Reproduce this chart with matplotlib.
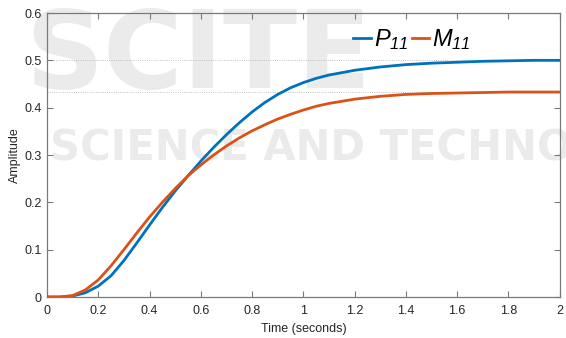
import matplotlib
matplotlib.use("Agg")
import matplotlib.pyplot as plt

plt.rcParams['font.family'] = ['Liberation Sans', 'DejaVu Sans']
plt.rcParams['mathtext.fontset'] = 'custom'
plt.rcParams['mathtext.it'] = 'Liberation Sans:italic'
plt.rcParams['mathtext.rm'] = 'Liberation Sans:italic'

# step response samples
t = [0, 0.05, 0.1, 0.15, 0.2, 0.25, 0.3, 0.35, 0.4, 0.45, 0.5, 0.55, 0.6, 0.65,
     0.7, 0.75, 0.8, 0.85, 0.9, 0.95, 1.0, 1.05, 1.1, 1.2, 1.3, 1.4, 1.5, 1.6,
     1.7, 1.8, 1.9, 2.0]
p11 = [0, 0, 0.002, 0.009, 0.023, 0.045, 0.077, 0.114, 0.152, 0.189, 0.224,
       0.256, 0.287, 0.316, 0.343, 0.368, 0.391, 0.411, 0.428, 0.442, 0.453,
       0.462, 0.469, 0.479, 0.486, 0.491, 0.494, 0.496, 0.498, 0.499, 0.5, 0.5]
m11 = [0, 0, 0.003, 0.015, 0.036, 0.066, 0.1, 0.135, 0.169, 0.2, 0.229,
       0.256, 0.279, 0.3, 0.319, 0.336, 0.351, 0.364, 0.376, 0.386, 0.395,
       0.403, 0.409, 0.418, 0.424, 0.428, 0.43, 0.431, 0.432, 0.433, 0.433, 0.433]
p11_final = 0.5
m11_final = 0.433
xticks = [0, 0.2, 0.4, 0.6, 0.8, 1, 1.2, 1.4, 1.6, 1.8, 2]
xlabels = ['0', '0.2', '0.4', '0.6', '0.8', '1', '1.2', '1.4', '1.6', '1.8', '2']
yticks = [0, 0.1, 0.2, 0.3, 0.4, 0.5, 0.6]
ylabels = ['0', '0.1', '0.2', '0.3', '0.4', '0.5', '0.6']

fig = plt.figure(figsize=(5.66, 3.38), dpi=100)
ax = fig.add_axes([0.083, 0.1213, 0.906, 0.8402])
ax.set_facecolor('none')

# faint publisher watermark behind the plot
wm = '#ebebeb'
fig.text(0.045, 0.74, 'SCITE', fontsize=78, fontweight='bold', color=wm,
         zorder=-1, family='DejaVu Sans')
fig.text(0.088, 0.525, 'SCIENCE AND TECHNOLOGY', fontsize=30, fontweight='bold',
         color=wm, zorder=-1, family='DejaVu Sans')

ax.axhline(p11_final, color='#b0b0b0', lw=0.6, ls=':', zorder=1)
ax.axhline(m11_final, color='#b0b0b0', lw=0.6, ls=':', zorder=1)
ax.plot(t, p11, color='#0072BD', lw=2, label='$P_{11}$', zorder=3)
ax.plot(t, m11, color='#D95319', lw=2, label='$M_{11}$', zorder=3)

ax.set_xlim(0, 2)
ax.set_ylim(0, 0.6)
ax.set_xticks(xticks)
ax.set_xticklabels(xlabels)
ax.set_yticks(yticks)
ax.set_yticklabels(ylabels)
ax.tick_params(direction='in', top=True, right=True, length=4, width=0.8,
               color='#7a7a7a', labelsize=9, labelcolor='#262626', pad=4)
ax.tick_params(axis='x', pad=6)
for s in ax.spines.values():
    s.set_color('#7a7a7a')
    s.set_linewidth(0.9)

ax.set_xlabel('Time (seconds)', fontsize=9, color='#262626', labelpad=4)
ax.set_ylabel('Amplitude', fontsize=9, color='#262626', labelpad=2)

leg = ax.legend(loc='upper left', bbox_to_anchor=(0.57, 1.0), ncol=2,
                frameon=False, fontsize=17, handlelength=0.75,
                handletextpad=0.1, columnspacing=0.15, borderpad=0.1)

fig.savefig('out.png', dpi=100)
